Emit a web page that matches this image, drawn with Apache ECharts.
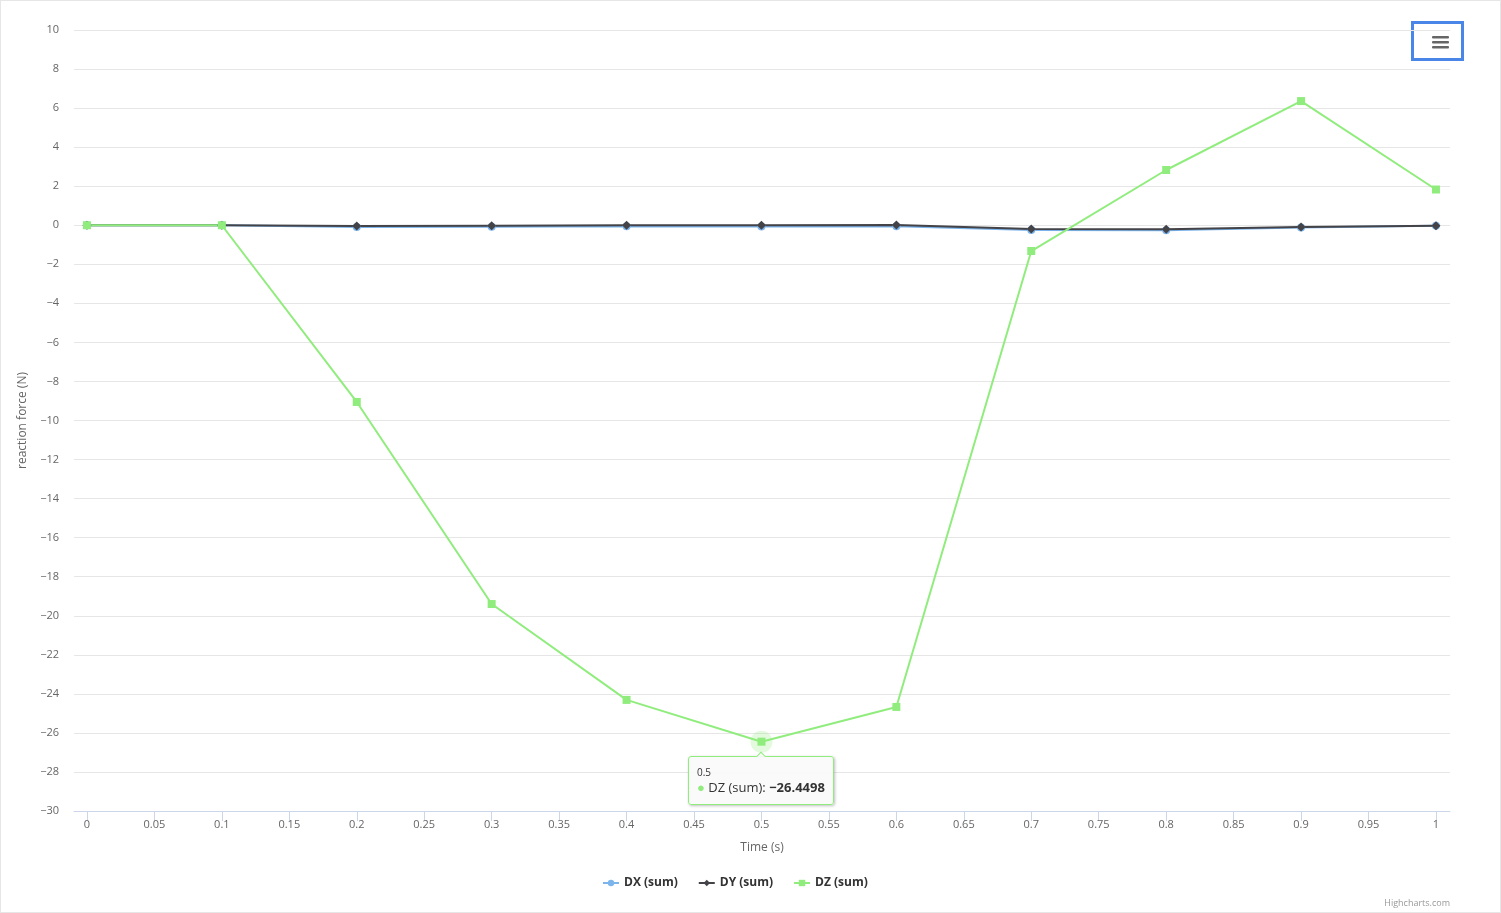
<!DOCTYPE html>
<html>
<head>
<meta charset="utf-8">
<script src="https://cdn.jsdelivr.net/npm/echarts@6/dist/echarts.min.js"></script>
<style>
  html, body { margin: 0; padding: 0; background: #fff; }
  #main { width: 1499px; height: 911px; border: 1px solid #e6e6e6; }
</style>
</head>
<body>
<div id="main"></div>
<script>
// 时间 (s)
const times = [0, 0.1, 0.2, 0.3, 0.4, 0.5, 0.6, 0.7, 0.8, 0.9, 1]
// 各方向反力之和
const dxSum = [0, 0, -0.09, -0.08, -0.05, -0.06, -0.05, -0.24, -0.25, -0.12, -0.02]
const dySum = [0, 0, -0.04, -0.02, 0, 0, 0.01, -0.19, -0.2, -0.09, -0.02]
const dzSum = [0, 0, -9.05, -19.4, -24.31, -26.4498, -24.67, -1.32, 2.83, 6.36, 1.83]
const xTicks = [0, 0.05, 0.1, 0.15, 0.2, 0.25, 0.3, 0.35, 0.4, 0.45, 0.5, 0.55, 0.6, 0.65, 0.7, 0.75, 0.8, 0.85, 0.9, 0.95, 1]
// 提示框固定显示的点
const tipIndex = 5

const font = '"Open Sans", "Lucida Grande", Arial, sans-serif'
const minus = v => String(v).replace('-', '\u2212')

function pairs(ys) {
  return times.map((t, i) => [t, ys[i]])
}

const chartDom = document.getElementById('main')
const myChart = echarts.init(chartDom)

const option = {
  animation: false,
  textStyle: { fontFamily: font },
  grid: { left: 73, right: 50, top: 29, bottom: 101 },
  tooltip: {
    trigger: 'item',
    alwaysShowContent: true,
    position: 'bottom',
    backgroundColor: 'rgba(250,250,250,0.9)',
    borderColor: '#90ed7d',
    borderWidth: 1,
    padding: [8, 8],
    extraCssText: 'border-radius:3px;box-shadow:1px 1px 3px rgba(0,0,0,0.25);',
    textStyle: { fontFamily: font, fontSize: 13, color: '#333' },
    formatter(p) {
      return '<div style="font-size:10px;line-height:14px">' + p.value[0] + '</div>'
        + '<div style="line-height:17px"><span style="color:' + p.color + '">\u25CF</span> '
        + p.seriesName + ': <b>' + minus(p.value[1]) + '</b></div>'
    },
  },
  legend: {
    bottom: 18,
    left: 596,
    itemGap: 20,
    itemWidth: 16,
    itemHeight: 8,
    textStyle: { fontFamily: font, fontSize: 12, fontWeight: 'bold', color: '#333' },
    data: ['DX (sum)', 'DY (sum)', 'DZ (sum)'],
  },
  xAxis: {
    type: 'value',
    min: -0.0096,
    max: 1.0104,
    name: 'Time (s)',
    nameLocation: 'middle',
    nameGap: 31,
    nameTextStyle: { color: '#666', fontSize: 12, fontFamily: font },
    axisLine: { onZero: false, lineStyle: { color: '#ccd6eb' } },
    axisTick: { show: true, length: 10, customValues: xTicks, lineStyle: { color: '#ccd6eb' } },
    axisLabel: { customValues: xTicks, color: '#666', fontSize: 11, margin: 8, fontFamily: font },
    splitLine: { show: false },
  },
  yAxis: {
    type: 'value',
    min: -30,
    max: 10,
    interval: 2,
    name: 'reaction force (N)',
    nameLocation: 'middle',
    nameGap: 45,
    nameTextStyle: { color: '#666', fontSize: 12, fontFamily: font },
    axisLine: { show: false },
    axisTick: { show: false },
    axisLabel: { color: '#666', fontSize: 11, margin: 15, fontFamily: font, formatter: minus },
    splitLine: { lineStyle: { color: '#e6e6e6' } },
  },
  series: [
    {
      name: 'DX (sum)',
      type: 'line',
      data: pairs(dxSum),
      color: '#7cb5ec',
      symbol: 'circle',
      symbolSize: 8,
      lineStyle: { width: 2 },
      tooltip: { show: false },
    },
    {
      name: 'DY (sum)',
      type: 'line',
      data: pairs(dySum),
      color: '#434348',
      symbol: 'diamond',
      symbolSize: 9,
      lineStyle: { width: 2 },
      tooltip: { show: false },
    },
    {
      name: 'DZ (sum)',
      type: 'line',
      data: pairs(dzSum),
      color: '#90ed7d',
      symbol: 'rect',
      symbolSize: 8,
      lineStyle: { width: 2 },
      emphasis: { scale: false },
      markPoint: {
        silent: true,
        symbol: 'circle',
        symbolSize: 22,
        itemStyle: { color: 'rgba(144,237,125,0.25)' },
        label: { show: false },
        data: [{ coord: [times[tipIndex], dzSum[tipIndex]] }],
      },
    },
  ],
  graphic: [
    {
      type: 'rect',
      left: 1410,
      top: 20,
      shape: { width: 50, height: 37 },
      style: { fill: '#fff', stroke: '#4a86e8', lineWidth: 3 },
    },
    {
      type: 'group',
      left: 1431,
      top: 35,
      children: [0, 5, 10].map(y => ({
        type: 'rect',
        shape: { x: 0, y, width: 17, height: 2.5, r: 1 },
        style: { fill: '#666' },
      })),
    },
    {
      type: 'text',
      right: 50,
      bottom: 4,
      style: { text: 'Highcharts.com', fill: '#999', fontSize: 9, fontFamily: font },
    },
  ],
}

option && myChart.setOption(option)
myChart.dispatchAction({ type: 'showTip', seriesIndex: 2, dataIndex: tipIndex })
</script>
</body>
</html>
